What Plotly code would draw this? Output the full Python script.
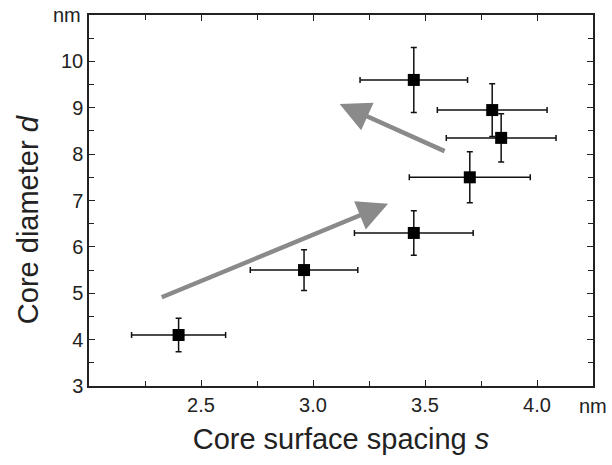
import plotly.graph_objects as go

spacing = [2.40, 2.96, 3.45, 3.70, 3.84, 3.80, 3.45]
diameter = [4.10, 5.50, 6.30, 7.50, 8.35, 8.95, 9.60]
spacing_err = [0.21, 0.24, 0.265, 0.27, 0.245, 0.245, 0.24]
diameter_err = [0.36, 0.44, 0.48, 0.55, 0.52, 0.57, 0.70]

x_ticks = [2.5, 3.0, 3.5, 4.0]
y_ticks = [3, 4, 5, 6, 7, 8, 9, 10]

# arrows: (tail_x, tail_y, head_x, head_y)
arrow_tail_x = [2.318, 3.594]
arrow_tail_y = [4.90, 8.05]
arrow_head_x = [3.335, 3.119]
arrow_head_y = [6.93, 9.08]

FONT = "Liberation Sans, Arial, sans-serif"

fig = go.Figure()
fig.add_trace(go.Scatter(
    x=spacing, y=diameter, mode="markers",
    marker=dict(symbol="square", size=12, color="black"),
    error_x=dict(type="data", array=spacing_err, color="#111", thickness=1.5, width=3),
    error_y=dict(type="data", array=diameter_err, color="#111", thickness=1.5, width=3),
    showlegend=False,
))

for tx, ty, hx, hy in zip(arrow_tail_x, arrow_tail_y, arrow_head_x, arrow_head_y):
    fig.add_annotation(
        x=hx, y=hy, ax=tx, ay=ty, xref="x", yref="y", axref="x", ayref="y",
        text="", showarrow=True, arrowhead=2, arrowsize=1.35, arrowwidth=4.5,
        arrowcolor="#8a8a8a", standoff=0,
    )

fig.add_annotation(x=0, y=1, xref="paper", yref="paper", text="nm", showarrow=False,
                   xanchor="right", yanchor="middle", xshift=-6,
                   font=dict(size=20, color="#222", family=FONT))
fig.add_annotation(x=1, y=0, xref="paper", yref="paper", text="nm", showarrow=False,
                   xanchor="center", yanchor="top", yshift=-7,
                   font=dict(size=20, color="#222", family=FONT))
# y-axis title (placed slightly below centre, as in the reference)
fig.add_annotation(x=0, y=0.447, xref="paper", yref="paper", text="Core diameter <i>d</i>",
                   showarrow=False, textangle=-90, xanchor="center", yanchor="middle",
                   xshift=-61, font=dict(size=29, color="#222", family=FONT))

axis_common = dict(
    showline=True, linecolor="#222", linewidth=1.5, mirror="ticks",
    ticks="inside", ticklen=6, tickwidth=1.2, tickcolor="#222",
    showgrid=False, zeroline=False, automargin=False,
    tickfont=dict(size=20, color="#222", family=FONT),
)

fig.update_xaxes(
    range=[2.0, 4.25], tickvals=x_ticks, ticktext=[f"{v:.1f}" for v in x_ticks],
    minor=dict(ticks="inside", ticklen=5, tickwidth=1.2, tickcolor="#222", dtick=0.25, tick0=0),
    title=dict(text="Core surface spacing <i>s</i>", font=dict(size=29, color="#222", family=FONT), standoff=14),
    **axis_common,
)
fig.update_yaxes(
    range=[3, 11], tickvals=y_ticks,
    minor=dict(ticks="inside", ticklen=5, tickwidth=1.2, tickcolor="#222", dtick=0.5, tick0=0),
    **axis_common,
)

fig.update_layout(
    width=612, height=465,
    margin=dict(l=89, r=19, t=15, b=79),
    plot_bgcolor="white", paper_bgcolor="white",
    font=dict(family=FONT, color="#222"),
)

fig.write_html("out.html", config={"displayModeBar": False},
               post_script="document.body.style.margin='0';document.body.style.overflow='hidden';")
